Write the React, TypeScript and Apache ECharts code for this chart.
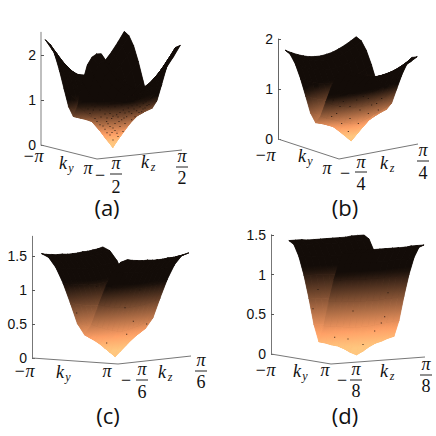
import React, { useEffect, useRef } from "react";
import * as echarts from "echarts";

// Surface heights, one quadrant: rows run from ky = 0 to |ky| = pi, columns from kz = 0 to the kz edge.
const heightsA = [
  [0, 0.2, 0.41, 0.61, 0.68, 0.73, 0.78],
  [0.38, 0.44, 0.55, 0.68, 0.75, 0.86, 0.97],
  [0.73, 0.76, 0.84, 0.94, 1.05, 1.19, 1.35],
  [1.03, 1.05, 1.13, 1.24, 1.39, 1.56, 1.74],
  [1.26, 1.28, 1.37, 1.5, 1.66, 1.85, 2.06],
  [1.4, 1.43, 1.52, 1.66, 1.83, 2.04, 2.26],
  [1.45, 1.48, 1.57, 1.71, 1.89, 2.1, 2.33],
];
// Panel (a), the nearest quadrant (ky > 0, kz < 0), which rises more quickly towards its corner.
const heightsAFront = [
  [0, 0.2, 0.41, 0.61, 0.68, 0.73, 0.78],
  [0.38, 0.44, 0.55, 0.68, 0.77, 0.9, 1.05],
  [0.73, 0.76, 0.85, 0.97, 1.12, 1.36, 1.6],
  [1.03, 1.06, 1.15, 1.29, 1.5, 1.76, 2.0],
  [1.26, 1.3, 1.4, 1.55, 1.76, 2.02, 2.2],
  [1.4, 1.44, 1.55, 1.7, 1.9, 2.14, 2.3],
  [1.45, 1.48, 1.57, 1.71, 1.89, 2.1, 2.33],
];
const heightsB = [
  [0, 0.12, 0.24, 0.35, 0.41, 0.46, 0.5],
  [0.39, 0.41, 0.45, 0.5, 0.55, 0.6, 0.66],
  [0.75, 0.76, 0.78, 0.82, 0.86, 0.91, 0.98],
  [1.06, 1.07, 1.09, 1.12, 1.17, 1.22, 1.29],
  [1.3, 1.31, 1.33, 1.36, 1.41, 1.47, 1.54],
  [1.45, 1.46, 1.48, 1.51, 1.56, 1.62, 1.7],
  [1.5, 1.51, 1.53, 1.57, 1.62, 1.68, 1.75],
];
const heightsC = [
  [0, 0.07, 0.14, 0.21, 0.27, 0.32, 0.37],
  [0.38, 0.39, 0.41, 0.43, 0.46, 0.49, 0.53],
  [0.74, 0.74, 0.75, 0.76, 0.78, 0.8, 0.83],
  [1.04, 1.04, 1.05, 1.06, 1.07, 1.09, 1.11],
  [1.27, 1.27, 1.28, 1.29, 1.3, 1.31, 1.33],
  [1.42, 1.42, 1.43, 1.43, 1.44, 1.46, 1.47],
  [1.47, 1.47, 1.48, 1.48, 1.49, 1.5, 1.52],
];
const heightsD = [
  [0, 0.04, 0.09, 0.13, 0.15, 0.18, 0.2],
  [0.36, 0.36, 0.37, 0.38, 0.39, 0.4, 0.41],
  [0.7, 0.7, 0.7, 0.71, 0.71, 0.72, 0.73],
  [0.99, 0.99, 0.99, 1.0, 1.0, 1.0, 1.01],
  [1.21, 1.21, 1.21, 1.22, 1.22, 1.22, 1.23],
  [1.35, 1.35, 1.35, 1.36, 1.36, 1.36, 1.37],
  [1.4, 1.4, 1.4, 1.4, 1.41, 1.41, 1.41],
];

// Dark specks seen on the surfaces, as [horizontal axis value, height-axis value].
const specksA = [
  [89, 0.93], [94, 0.96], [99, 0.85], [87.3, 0.82], [82.3, 0.78], [95.7, 0.76], [79, 0.72], [90.7, 0.7],
  [100.7, 0.74], [75.7, 0.67], [85.7, 0.63], [94, 0.63], [69, 0.7], [64, 0.69], [59, 0.78], [70.7, 0.59],
  [80.7, 0.56], [90.7, 0.56], [65.7, 0.52], [74, 0.48], [84, 0.48], [59, 0.45], [69, 0.41], [79, 0.41],
  [64, 0.35], [74, 0.32], [82, 0.3], [69, 0.22], [77, 0.19], [72, 0.11], [54, 0.59], [49, 0.7],
  [52.3, 0.78], [102.3, 0.93], [97.3, 1.04], [104, 0.82], [85.7, 1.0], [80.7, 0.89], [74, 0.85], [67.3, 0.85],
  [50.7, 0.89], [57.3, 0.93], [62.3, 1.0], [92.3, 1.11], [99, 1.15], [87.3, 1.07],
  [91, 0.87], [96, 0.89], [102, 0.8], [98, 0.72], [93, 0.8], [88, 0.74], [84, 0.71], [77, 0.62], [72, 0.64],
  [66, 0.6], [60, 0.62], [56, 0.52], [62, 0.42], [67, 0.47], [72, 0.38], [78, 0.52], [83, 0.6], [97, 0.98],
  [101, 1.05], [106, 0.88], [105, 0.96], [108, 0.9], [92, 1.02], [84, 0.93], [76, 0.95], [70, 0.9], [65, 0.95],
  [47, 0.8], [54, 0.85], [71, 0.28], [66, 0.27], [76, 0.26],
];
const specksB = [
  [78.7, 0.78], [85.3, 0.85], [93.7, 0.68], [100.3, 0.58], [72, 0.65], [90.3, 0.81], [65.3, 0.75], [98.7, 0.71],
  [58.7, 0.51], [82, 0.58], [72, 0.41], [80.3, 0.31], [63.7, 0.31], [70.3, 0.15], [53.7, 0.45], [90.3, 0.51],
  [62, 0.65], [75.3, 0.88], [103.7, 0.81], [55.3, 0.78],
];
const specksC = [
  [74.7, 1.01], [64.7, 1.05], [101.3, 0.54], [114.7, 0.5], [74.7, 0.22], [94.7, 0.35], [93, 0.74], [44.7, 0.66], [108, 1.0],
];
const specksD = [
  [47, 0.81], [42, 0.57], [82, 0.54], [113.7, 0.47], [110.3, 0.39], [77, 0.19], [63.7, 0.21], [92, 0.12], [103.7, 0.29], [117, 0.77],
];

const ticksA = [0, 1, 2];
const ticksB = [0, 1, 2];
const ticksC = [0, 0.5, 1, 1.5];
const ticksD = [0, 0.5, 1, 1.5];
const denominators = ["2", "4", "6", "8"];
const captions = ["(a)", "(b)", "(c)", "(d)"];

const panels: any[] = [
  { h: heightsA, front: heightsAFront, specks: specksA, ticks: ticksA, zTop: 2.5, ox: 41, oy: 145, pz: 45, ky: [56, 14], kz: [85, -9], v0: 0.05, v1: 0.98, axisColor: "#aaa", axisWidth: 1.5 },
  { h: heightsB, specks: specksB, ticks: ticksB, zTop: 2, ox: 278, oy: 139, pz: 50, ky: [61, 20], kz: [79, -15], v0: 0.09, v1: 0.99, axisColor: "#666", axisWidth: 1 },
  { h: heightsC, specks: specksC, ticks: ticksC, zTop: 1.79, ox: 32, oy: 358, pz: 68, ky: [86, 6], kz: [73, -8], v0: 0.13, v1: 0.97, axisColor: "#777", axisWidth: 1 },
  { h: heightsD, specks: specksD, ticks: ticksD, zTop: 1.5, ox: 271, oy: 354, pz: 79.5, ky: [60, 10], kz: [94, -7], v0: 0.19, v1: 0.99, axisColor: "#777", axisWidth: 1 },
];

const labelLayout = [
  { minusPi: [33, 156], ky: [66, 163], pi: [88, 168], minus: [100, 175], f1: [116, 163, 174, 187], kz: [148, 162], f2: [182, 156, 167, 178], cap: [107, 207] },
  { minusPi: [265, 155], ky: [305, 156], pi: [327, 168], minus: [345, 173], f1: [361, 162, 172, 184], kz: [387, 163], f2: [423, 150, 161, 173], cap: [345, 207] },
  { minusPi: [24, 371], ky: [63, 372], pi: [107, 371], minus: [126, 380], f1: [142, 369, 380, 392], kz: [165, 372], f2: [201, 360, 371, 382], cap: [108, 415] },
  { minusPi: [265, 370], ky: [300, 371], pi: [325, 370], minus: [342, 380], f1: [356, 369, 380, 391], kz: [387, 371], f2: [426, 364, 375, 386], cap: [345, 415] },
];

const N = 12;
const Z_BRIGHT = 0.1;
const Z_DARK = 1.15;
const X_FLOOR = 0.06;

function copper(z: number) {
  const x = Math.max(X_FLOOR, Math.min(1, 1 - (z - Z_BRIGHT) / (Z_DARK - Z_BRIGHT)));
  const r = Math.min(1, 1.25 * x) * 255;
  const g = 0.7812 * x * 255;
  const b = 0.4975 * x * 255;
  return `rgb(${Math.round(r)},${Math.round(g)},${Math.round(b)})`;
}

function axisPoint(p: any, u: number, v: number, z: number) {
  return [p.ky[0] * u + p.kz[0] * v, z - (p.ky[1] * u + p.kz[1] * v) / p.pz];
}

// Fill of a triangle whose colour follows the height at its three corners.
function triangleFill(a: any, b: any, c: any) {
  const [x1, y1] = a.pt;
  const [x2, y2] = b.pt;
  const [x3, y3] = c.pt;
  const det = (x2 - x1) * (y3 - y1) - (x3 - x1) * (y2 - y1);
  const zs = [a, b, c].sort((m, n) => m.z - n.z);
  const lo = zs[0];
  const hi = zs[2];
  const mean = (a.z + b.z + c.z) / 3;
  if (Math.abs(det) < 0.05 || hi.z - lo.z < 1e-6) return copper(mean);
  const gx = ((b.z - a.z) * (y3 - y1) - (c.z - a.z) * (y2 - y1)) / det;
  const gy = ((c.z - a.z) * (x2 - x1) - (b.z - a.z) * (x3 - x1)) / det;
  const g2 = gx * gx + gy * gy;
  if (g2 < 1e-9) return copper(mean);
  const dz = hi.z - lo.z;
  return {
    type: "linear",
    global: true,
    x: lo.pt[0],
    y: lo.pt[1],
    x2: lo.pt[0] + (gx * dz) / g2,
    y2: lo.pt[1] + (gy * dz) / g2,
    colorStops: [0, 0.25, 0.5, 0.75, 1].map((offset) => ({ offset, color: copper(lo.z + dz * offset) })),
  };
}

function buildOption() {
  const grid: any[] = [];
  const xAxis: any[] = [];
  const yAxis: any[] = [];
  const series: any[] = [];
  const graphic: any[] = [];
  const serif = "Liberation Serif";
  const txt = (x: number, y: number, text: string, size: number, family: string, italic: boolean) => ({
    type: "text",
    x,
    y,
    silent: true,
    style: {
      text,
      fill: "#111",
      font: `${italic ? "italic " : ""}${size}px "${family}"`,
      textAlign: "center",
      textVerticalAlign: "middle",
    },
  });

  panels.forEach((p, k) => {
    const W = p.ky[0] + p.kz[0];
    grid.push({ left: p.ox, top: p.oy - p.zTop * p.pz, width: W, height: p.zTop * p.pz, containLabel: false });
    xAxis.push({ type: "value", gridIndex: k, min: 0, max: W, show: false });
    yAxis.push({
      type: "value",
      gridIndex: k,
      min: 0,
      max: p.zTop,
      splitLine: { show: false },
      axisLine: { show: true, lineStyle: { color: p.axisColor, width: p.axisWidth } },
      axisTick: { show: true, inside: true, length: 3, lineStyle: { color: "#555" }, customValues: p.ticks },
      axisLabel: {
        show: true,
        margin: 5,
        color: "#111",
        fontSize: 14,
        fontFamily: "Liberation Sans",
        customValues: p.ticks,
        formatter: (v: number) => String(v),
      },
    });
    series.push({
      type: "line",
      xAxisIndex: k,
      yAxisIndex: k,
      clip: false,
      silent: true,
      showSymbol: false,
      lineStyle: { color: "#777", width: 1 },
      data: [axisPoint(p, 0, 0, 0), axisPoint(p, 1, 0, 0), axisPoint(p, 1, 1, 0)],
    });

    const cells: number[][] = [];
    for (let i = 0; i < N; i++) for (let j = N - 1; j >= 0; j--) cells.push([i, j]);
    const zAt = (i: number, j: number) => {
      const table = p.front && i > 6 && j < 6 ? p.front : p.h;
      return table[Math.abs(i - 6)][Math.abs(j - 6)];
    };
    series.push({
      type: "custom",
      xAxisIndex: k,
      yAxisIndex: k,
      silent: true,
      clip: false,
      data: cells,
      encode: { x: 0, y: 1 },
      renderItem: (_: any, api: any) => {
        const i = api.value(0);
        const j = api.value(1);
        const node = (a: number, b: number) => {
          const z = zAt(a, b);
          const u = a / N;
          const v = p.v0 + ((p.v1 - p.v0) * b) / N;
          return { z, pt: api.coord(axisPoint(p, u, v, z)) as number[] };
        };
        const n00 = node(i, j);
        const n10 = node(i + 1, j);
        const n11 = node(i + 1, j + 1);
        const n01 = node(i, j + 1);
        const tris = [
          [n01, n11, n00],
          [n11, n10, n00],
        ];
        const under = copper((n00.z + n10.z + n11.z + n01.z) / 4);
        return {
          type: "group",
          silent: true,
          children: [
            {
              type: "polygon",
              silent: true,
              shape: { points: [n00.pt, n10.pt, n11.pt, n01.pt] },
              style: { fill: under },
            },
            ...tris.map((t) => {
              const fill = triangleFill(t[0], t[1], t[2]);
              return {
                type: "polygon",
                silent: true,
                shape: { points: t.map((q) => q.pt) },
                style: { fill, stroke: fill, lineWidth: 0.7, lineJoin: "round" },
              };
            }),
          ],
        };
      },
    });
    series.push({
      type: "scatter",
      xAxisIndex: k,
      yAxisIndex: k,
      silent: true,
      clip: false,
      symbol: "rect",
      symbolSize: 1,
      itemStyle: { color: "#1c120c", opacity: 0.9 },
      data: p.specks,
      z: 3,
    });

    const L = labelLayout[k];
    const d = denominators[k];
    const bar = (cx: number, y: number) => ({
      type: "line",
      silent: true,
      shape: { x1: cx - 6, y1: y, x2: cx + 6, y2: y },
      style: { stroke: "#222", lineWidth: 1 },
    });
    graphic.push(txt(L.minusPi[0], L.minusPi[1], "\u2212\u03c0", 18, serif, true));
    graphic.push(txt(L.ky[0] - 3, L.ky[1], "k", 18, serif, true));
    graphic.push(txt(L.ky[0] + 5, L.ky[1] + 5, "y", 12, serif, true));
    graphic.push(txt(L.pi[0], L.pi[1], "\u03c0", 18, serif, true));
    graphic.push(txt(L.minus[0], L.minus[1], "\u2212", 18, serif, false));
    graphic.push(txt(L.f1[0], L.f1[1], "\u03c0", 18, serif, true));
    graphic.push(bar(L.f1[0], L.f1[2]));
    graphic.push(txt(L.f1[0], L.f1[3], d, 18, serif, false));
    graphic.push(txt(L.kz[0] - 3, L.kz[1], "k", 18, serif, true));
    graphic.push(txt(L.kz[0] + 5, L.kz[1] + 5, "z", 12, serif, true));
    graphic.push(txt(L.f2[0], L.f2[1], "\u03c0", 18, serif, true));
    graphic.push(bar(L.f2[0], L.f2[2]));
    graphic.push(txt(L.f2[0], L.f2[3], d, 18, serif, false));
    graphic.push(txt(L.cap[0], L.cap[1], captions[k], 22, "Open Sans", false));
  });

  return { animation: false, backgroundColor: "#fff", grid, xAxis, yAxis, series, graphic };
}

export default function App() {
  const ref = useRef<HTMLDivElement>(null);
  useEffect(() => {
    const chart = echarts.init(ref.current!, undefined, { renderer: "svg" });
    chart.setOption(buildOption() as any);
    return () => chart.dispose();
  }, []);
  return <div ref={ref} style={{ position: "fixed", left: 0, top: 0, width: 436, height: 436 }} />;
}
